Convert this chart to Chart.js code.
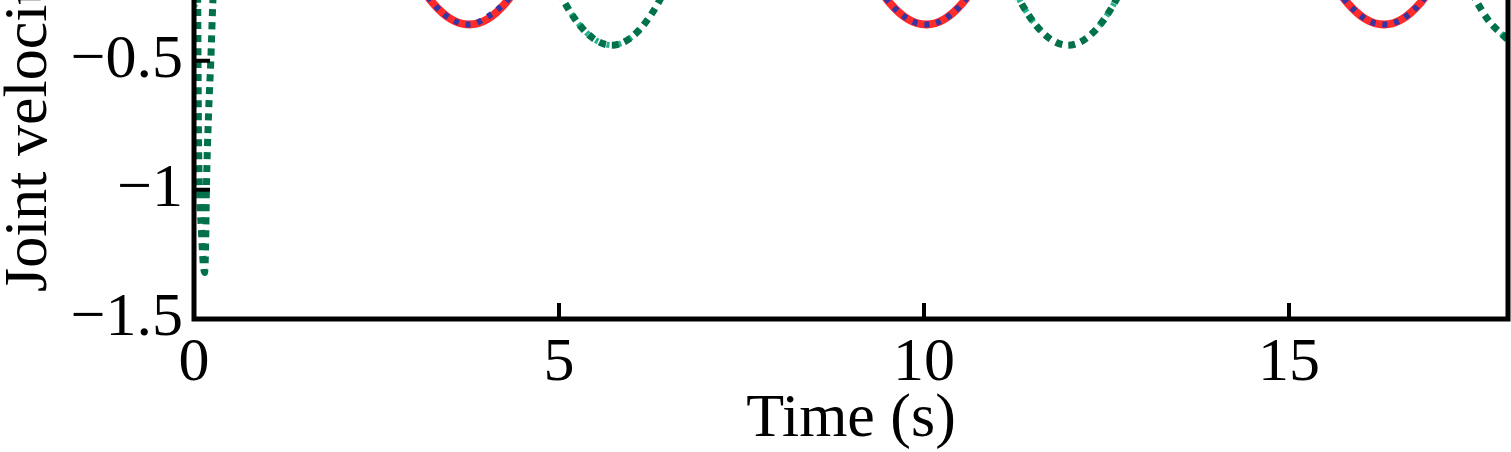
<!DOCTYPE html>
<html>
<head>
<meta charset="utf-8">
<script src="https://cdn.jsdelivr.net/npm/chart.js@4/dist/chart.umd.min.js"></script>
<style>
  html, body { margin: 0; padding: 0; background: #fff; }
  canvas { display: block; }
</style>
</head>
<body>
<canvas id="c" width="1511" height="452"></canvas>
<script>
// Joint velocity vs time — periodic tracking, two joints (desired vs actual).

const xTicks = [0, 5, 10, 15];
const yTicks = [-1.5, -1, -0.5];

// joint 1: desired (red solid) and actual (blue dashed)
const j1Time = [0, 0.64, 1.5, 2.27, 2.77, 3.02, 3.27, 3.52, 3.77, 4.02, 4.27, 4.52, 4.77, 5.27, 5.77,
  6.27, 6.9, 7.53, 8.03, 8.53, 9.03, 9.28, 9.53, 9.78, 10.03, 10.28, 10.53, 10.78, 11.03, 11.53, 12.03,
  12.53, 13.17, 13.8, 14.3, 14.8, 15.3, 15.55, 15.8, 16.05, 16.3, 16.55, 16.8, 17.05, 17.3, 17.8, 18.0];
const j1Desired = [0.89, 1.02, 0.775, 0.281, -0.043, -0.175, -0.276, -0.339, -0.36, -0.339, -0.276, -0.175,
  -0.043, 0.281, 0.617, 0.883, 1.02, 0.883, 0.617, 0.281, -0.043, -0.175, -0.276, -0.339, -0.36, -0.339,
  -0.276, -0.175, -0.043, 0.281, 0.617, 0.883, 1.02, 0.883, 0.617, 0.281, -0.043, -0.175, -0.276, -0.339,
  -0.36, -0.339, -0.276, -0.175, -0.043, 0.281, 0.42];
const j1Actual = [0.89, 1.02, 0.775, 0.281, -0.043, -0.175, -0.276, -0.339, -0.36, -0.33, -0.272, -0.175,
  -0.043, 0.281, 0.617, 0.883, 1.02, 0.883, 0.617, 0.281, -0.043, -0.175, -0.276, -0.339, -0.36, -0.339,
  -0.276, -0.175, -0.043, 0.281, 0.617, 0.883, 1.02, 0.883, 0.617, 0.281, -0.043, -0.175, -0.276, -0.339,
  -0.36, -0.339, -0.276, -0.175, -0.043, 0.281, 0.42];

// joint 2: desired (teal) and actual (dark green dotted, with start-up transient)
const j2Time = [0, 0.5, 1.0, 1.5, 2.0, 2.6, 3.2, 3.72, 4.22, 4.72, 4.97, 5.22, 5.47, 5.72, 5.97, 6.22, 6.47,
  6.72, 7.22, 7.72, 8.22, 8.85, 9.47, 9.97, 10.47, 10.97, 11.22, 11.47, 11.72, 11.97, 12.22, 12.47, 12.72,
  12.97, 13.47, 13.97, 14.47, 15.1, 15.72, 16.22, 16.72, 17.22, 17.47, 17.72, 18.0];
const j2Desired = [-0.29, -0.02, 0.357, 0.758, 1.069, 1.22, 1.055, 0.735, 0.331, -0.058, -0.217, -0.339,
  -0.414, -0.44, -0.414, -0.339, -0.217, -0.058, 0.331, 0.735, 1.055, 1.22, 1.055, 0.735, 0.331, -0.058,
  -0.217, -0.339, -0.414, -0.44, -0.414, -0.339, -0.217, -0.058, 0.331, 0.735, 1.055, 1.22, 1.055, 0.735,
  0.331, -0.058, -0.217, -0.339, -0.42];
const j2ActTime = [0, 0.05, 0.055, 0.062, 0.075, 0.1, 0.125, 0.145, 0.16, 0.17, 0.2, 0.23, 0.26, 0.32, 0.45,
  0.7, 1.0, 1.5, 2.0, 2.6, 3.2, 3.72, 4.22, 4.72, 4.97, 5.22, 5.47, 5.72, 5.97, 6.22, 6.47, 6.72, 7.22, 7.72,
  8.22, 8.85, 9.47, 9.97, 10.47, 10.97, 11.22, 11.47, 11.72, 11.97, 12.22, 12.47, 12.72, 12.97, 13.47, 13.97,
  14.47, 15.1, 15.72, 16.22, 16.72, 17.22, 17.47, 17.72, 18.0];
const j2Actual = [-0.1, -0.27, -0.5, -0.8, -1.0, -1.15, -1.28, -1.32, -1.2, -1.0, -0.7, -0.5, -0.26, 0.0,
  0.2, 0.2, 0.357, 0.758, 1.069, 1.22, 1.055, 0.735, 0.331, -0.058, -0.217, -0.339, -0.414, -0.44, -0.414,
  -0.339, -0.217, -0.058, 0.331, 0.735, 1.055, 1.22, 1.055, 0.735, 0.331, -0.058, -0.217, -0.339, -0.414,
  -0.44, -0.414, -0.339, -0.217, -0.058, 0.331, 0.735, 1.055, 1.22, 1.055, 0.735, 0.331, -0.058, -0.217,
  -0.339, -0.42];

const FONT = "'Liberation Serif', 'Times New Roman', serif";
const pts = (xs, ys) => xs.map((x, i) => ({ x, y: ys[i] }));
const fmt = (v) => String(v).replace("-", "\u2212");

// MATLAB-ish frame: thick box, inward ticks, axis titles
const frame = {
  id: "frame",
  afterDatasetsDraw(chart) {
    const { ctx, chartArea: a, scales: { x, y } } = chart;
    ctx.save();
    ctx.strokeStyle = "#000";
    ctx.lineWidth = 5;
    ctx.lineCap = "butt";
    ctx.beginPath();
    ctx.moveTo(a.left, a.top - 10); ctx.lineTo(a.left, a.bottom);
    ctx.lineTo(a.right, a.bottom); ctx.lineTo(a.right, a.top - 10);
    ctx.stroke();
    ctx.lineWidth = 4;
    ctx.beginPath();
    for (const v of yTicks) {
      const py = y.getPixelForValue(v);
      ctx.moveTo(a.left, py); ctx.lineTo(a.left + 16, py);
    }
    for (const v of xTicks) {
      const px = x.getPixelForValue(v);
      ctx.moveTo(px, a.bottom); ctx.lineTo(px, a.bottom - 16);
    }
    ctx.stroke();

    ctx.fillStyle = "#000";
    ctx.font = `62px ${FONT}`;
    ctx.textAlign = "center";
    ctx.textBaseline = "alphabetic";
    ctx.fillText("Time (s)", (a.left + a.right) / 2, 436);
    ctx.translate(46, 292);
    ctx.rotate(-Math.PI / 2);
    ctx.textAlign = "left";
    ctx.fillText("Joint velocity (rad/s)", 0, 0);
    ctx.restore();
  },
};

new Chart(document.getElementById("c"), {
  type: "line",
  data: {
    datasets: [
      { data: pts(j1Time, j1Desired), borderColor: "#ff2a2a", borderWidth: 8, order: 4 },
      { data: pts(j1Time, j1Actual), borderColor: "#3535a6", borderWidth: 6, borderDash: [5, 7], order: 3 },
      { data: pts(j2Time, j2Desired), borderColor: "#22b08f", borderWidth: 6, borderDash: [3, 9], order: 2 },
      { data: pts(j2ActTime, j2Actual), borderColor: "#007149", borderWidth: 7, borderDash: [7, 6], order: 1 },
    ],
  },
  options: {
    responsive: false,
    animation: false,
    devicePixelRatio: 1,
    layout: { padding: { top: 0, right: 3, left: 0, bottom: 0 } },
    elements: {
      point: { radius: 0 },
      line: { cubicInterpolationMode: "monotone", fill: false, borderCapStyle: "butt" },
    },
    plugins: { legend: { display: false }, tooltip: { enabled: false } },
    scales: {
      x: {
        type: "linear", min: 0, max: 18,
        afterBuildTicks: (s) => { s.ticks = xTicks.map((value) => ({ value })); },
        afterFit: (s) => { s.height = 133; s.paddingLeft = 0; s.paddingRight = 0; },
        grid: { display: false, drawTicks: false },
        border: { display: false },
        ticks: { color: "#000", font: { family: FONT, size: 62 }, padding: 8, maxRotation: 0,
          callback: (v) => fmt(v) },
      },
      y: {
        type: "linear", min: -1.5, max: -0.265,
        afterBuildTicks: (s) => { s.ticks = yTicks.map((value) => ({ value })); },
        afterFit: (s) => { s.width = 194; s.paddingTop = 0; s.paddingBottom = 0; },
        grid: { display: false, drawTicks: false },
        border: { display: false },
        ticks: { color: "#000", font: { family: FONT, size: 62 }, padding: 11,
          callback: (v) => fmt(v) },
      },
    },
  },
  plugins: [frame],
});
</script>
</body>
</html>
